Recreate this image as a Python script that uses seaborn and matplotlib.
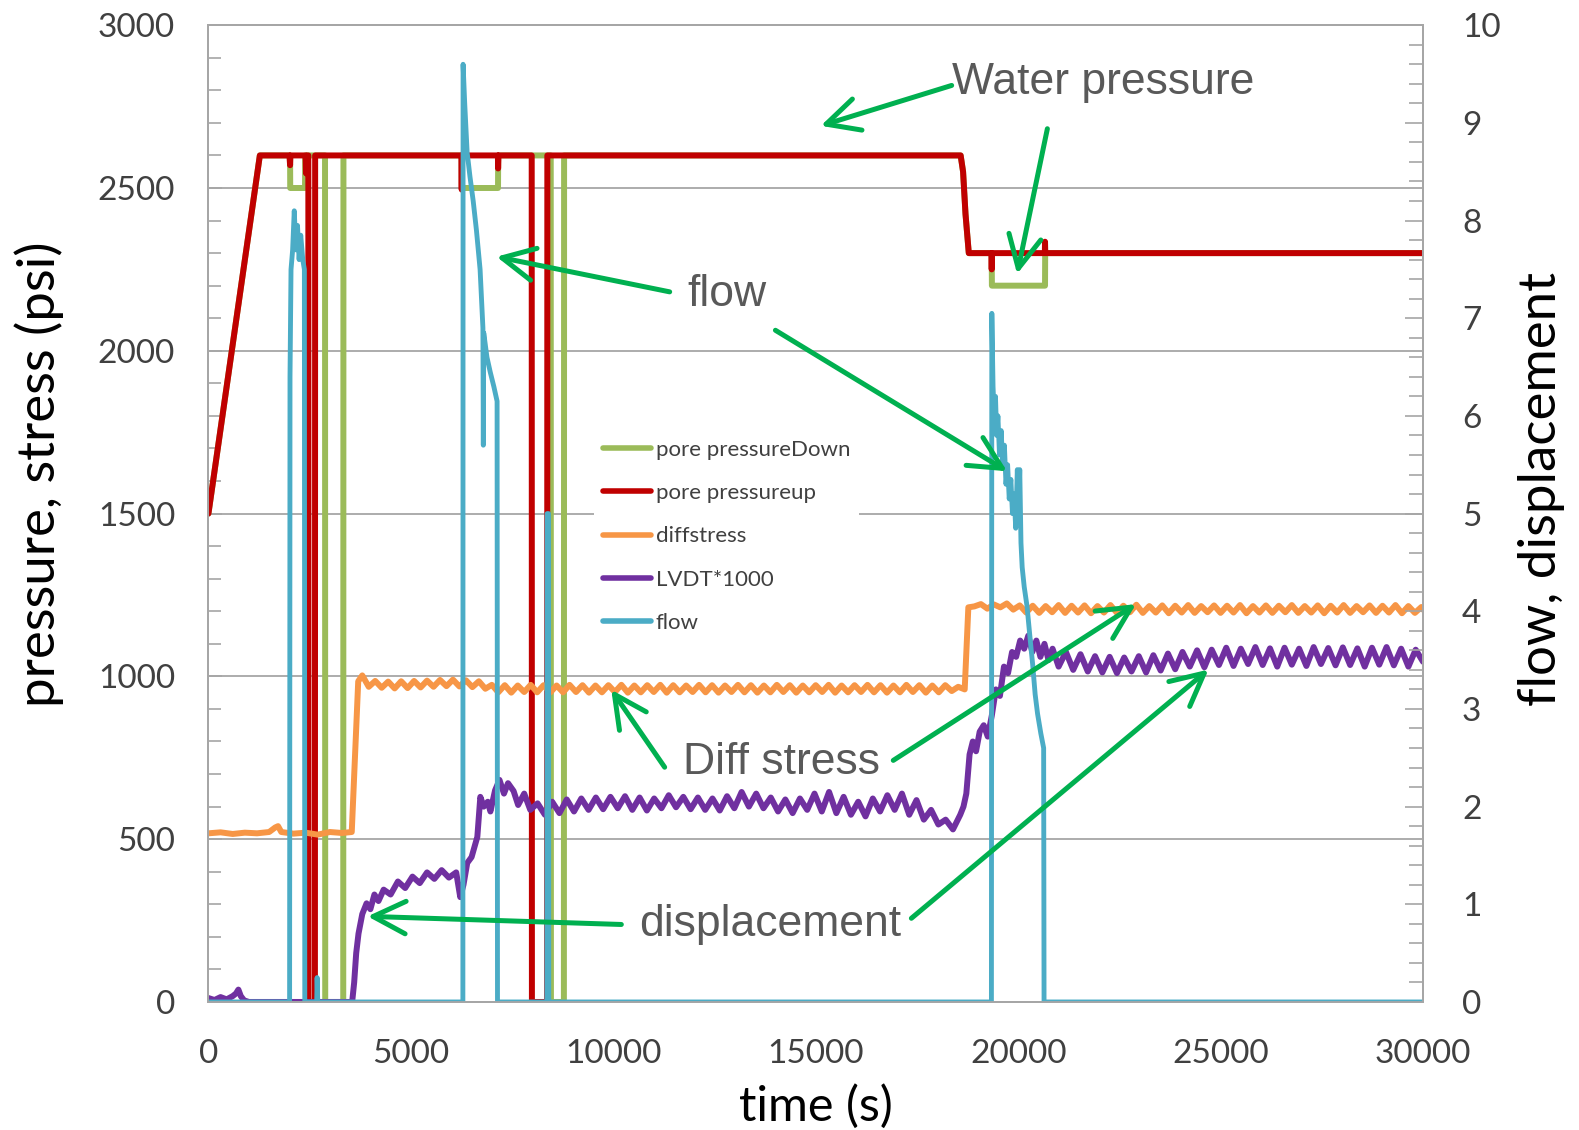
import matplotlib
matplotlib.use("Agg")
import numpy as np
import pandas as pd
import seaborn as sns
import matplotlib.pyplot as plt
from matplotlib.ticker import MultipleLocator

# ---------------- data ----------------
X_TICKS = [0, 5000, 10000, 15000, 20000, 25000, 30000]
Y_TICKS = [0, 500, 1000, 1500, 2000, 2500, 3000]
Y2_TICKS = [0, 1, 2, 3, 4, 5, 6, 7, 8, 9, 10]

# pore pressure up (psi)
RED = [(0, 1500), (1270, 2600), (2000, 2600), (2017, 2570), (2025, 2600), (2400, 2600),
       (2410, 2545), (2440, 2600), (2468, 2600), (2472, 0), (2630, 0), (2636, 2600),
       (6250, 2600), (6256, 2495), (6262, 2600), (7150, 2600), (7155, 2560), (7165, 2600),
       (7985, 2600), (7990, 0), (8366, 0), (8371, 2600), (18580, 2600), (18640, 2550),
       (18700, 2420), (18781, 2300), (19340, 2300), (19347, 2250), (19354, 2300),
       (20660, 2300), (20664, 2335), (20670, 2300), (30000, 2300)]

# pore pressure down (psi)
GREEN = [(0, 1500), (1270, 2600), (2017, 2600), (2020, 2500), (2386, 2500), (2390, 2600),
         (2880, 2600), (2885, 0), (3330, 0), (3335, 2600), (6256, 2600), (6260, 2500),
         (7153, 2500), (7157, 2600), (8455, 2600), (8460, 0), (8780, 0), (8785, 2600),
         (18580, 2600), (18640, 2550), (18700, 2420), (18781, 2300), (19347, 2300),
         (19352, 2200), (20664, 2200), (20668, 2300), (30000, 2300)]

# diff stress (psi)
DIFF_PRE = [(0, 518), (300, 521), (600, 516), (900, 520), (1200, 518), (1500, 522),
            (1650, 536), (1720, 540), (1800, 522), (2100, 517), (2400, 520), (2700, 514),
            (3000, 522), (3300, 519), (3540, 522), (3700, 985), (3800, 1003)]
DIFF_W1_START, DIFF_W1_STEP = 3960, 160
DIFF_W1 = [968, 986, 965, 984, 963, 985, 964, 986, 966, 987, 968, 989, 970, 990, 969, 988, 967, 985, 962,
           974, 951, 973, 950, 972, 952, 974, 951, 973, 950, 972, 951, 974, 952, 973, 950, 972, 951, 973, 952,
           974, 950, 972, 951, 973, 952, 974, 950, 973, 951, 972, 952, 974, 951, 973, 950, 972, 952, 974, 951,
           973, 950, 972, 951, 974, 952, 973, 950, 972, 951, 973, 952, 974, 950, 972, 951, 973, 952, 974, 951,
           973, 950, 972, 951, 974, 952, 973, 950, 972, 951, 973, 955, 968]
DIFF_STEP = [(18680, 960), (18770, 1212)]
DIFF_W2_START, DIFF_W2_STEP = 18920, 160
DIFF_W2 = [1215, 1222, 1208, 1221, 1212, 1224, 1205, 1218, 1196, 1217, 1195, 1216, 1197, 1219, 1195, 1217, 1196, 1218, 1194, 1216,
           1196, 1219, 1195, 1217, 1197, 1220, 1195, 1216, 1196, 1218, 1194, 1217, 1196, 1219, 1195, 1216, 1197, 1218, 1195, 1217,
           1196, 1219, 1194, 1216, 1196, 1218, 1195, 1217, 1197, 1219, 1195, 1216, 1196, 1218, 1194, 1217, 1196, 1219, 1195, 1216,
           1197, 1218, 1195, 1217, 1196, 1219, 1194, 1216, 1195, 1213]

# LVDT*1000
LVDT_PRE = [(0, 12), (150, 6), (300, 15), (450, 8), (600, 18), (680, 26), (740, 38), (800, 18),
            (880, 5), (1000, 0), (3550, 0), (3600, 60), (3650, 150), (3707, 210), (3800, 270),
            (3906, 303), (4000, 285), (4100, 330), (4200, 310), (4328, 345)]
LVDT_W1_START, LVDT_W1_STEP = 4500, 180
LVDT_W1 = [330, 370, 350, 385, 365, 398, 378, 405, 382, 398]
LVDT_MID = [(6220, 322), (6300, 360), (6393, 427), (6500, 445), (6642, 507), (6716, 630),
            (6800, 600), (6900, 615), (6965, 585), (7080, 650), (7189, 682), (7300, 640),
            (7400, 672), (7537, 648), (7650, 605), (7800, 640), (7950, 590)]
LVDT_W2_START, LVDT_W2_STEP = 8130, 180
LVDT_W2 = [610, 575, 615, 580, 622, 585, 625, 590, 628, 592, 630, 595, 632, 590, 628, 588, 625, 595, 635, 598,
           630, 592, 628, 590, 625, 588, 632, 595, 645, 600, 640, 595, 628, 585, 622, 580, 625, 590, 640, 585,
           645, 580, 630, 575, 615, 570, 625, 585, 635, 590, 640, 575, 620, 560, 590, 545, 560, 530, 575]
LVDT_RISE = [(18650, 600), (18720, 640), (18800, 760), (18880, 800), (18960, 770), (19050, 830),
             (19150, 850), (19250, 815), (19350, 880), (19450, 960), (19550, 940), (19650, 1030),
             (19750, 1010), (19850, 1075), (19950, 1060), (20050, 1110), (20150, 1085), (20250, 1125),
             (20350, 1075), (20450, 1110), (20550, 1060), (20650, 1100), (20750, 1050), (20850, 1085)]
LVDT_W3_START, LVDT_W3_STEP = 21000, 180
LVDT_W3 = [1030, 1075, 1020, 1068, 1015, 1062, 1012, 1060, 1010, 1058, 1015, 1062, 1012, 1065, 1018, 1070, 1022, 1075, 1030, 1080,
           1028, 1082, 1035, 1088, 1032, 1085, 1038, 1090, 1035, 1086, 1030, 1088, 1036, 1085, 1032, 1090, 1038, 1087, 1034, 1089,
           1035, 1086, 1030, 1088, 1036, 1090, 1034, 1085, 1030, 1082, 1045]

# flow (right axis)
FLOW = [(0, 0), (2005, 0), (2015, 6.4), (2040, 7.5), (2080, 7.7), (2120, 8.1), (2160, 7.7),
        (2200, 7.95), (2240, 7.6), (2280, 7.85), (2330, 7.6), (2370, 7.5), (2380, 0), (2675, 0),
        (2685, 0.25), (2700, 0), (6285, 0), (6290, 9.6), (6330, 9.2), (6390, 8.7), (6460, 8.45),
        (6540, 8.2), (6620, 7.9), (6710, 7.5), (6780, 6.9), (6790, 5.7), (6800, 6.85), (6880, 6.6),
        (6960, 6.45), (7050, 6.3), (7130, 6.15), (7140, 0), (8360, 0), (8366, 5.0), (8400, 5.0),
        (8406, 0), (19340, 0), (19350, 7.05), (19380, 6.3), (19410, 6.0), (19440, 6.2), (19470, 5.8),
        (19500, 6.0), (19540, 5.6), (19580, 5.85), (19620, 5.5), (19660, 5.7), (19700, 5.3),
        (19740, 5.5), (19780, 5.15), (19820, 5.35), (19860, 5.0), (19900, 5.2), (19940, 4.85),
        (19980, 5.45), (20010, 5.0), (20040, 5.45), (20070, 4.7), (20100, 4.45), (20150, 4.25),
        (20220, 4.05), (20300, 3.7), (20360, 3.45), (20420, 3.15), (20480, 2.95), (20560, 2.75),
        (20630, 2.6), (20640, 0), (30000, 0)]

LEGEND_LABELS = ["pore pressureDown", "pore pressureup", "diffstress", "LVDT*1000", "flow"]

# annotations: text, (x, y) of text left edge; arrows tail -> head, in left-axis data units
ANN_TEXT = [("Water pressure", 18358, 2824), ("flow", 11841, 2174),
            ("Diff stress", 11717, 736), ("displacement", 10647, 238)]
ANN_ARROWS = [((18358, 2815), (15125, 2691)), ((20722, 2682), (19975, 2236)),
              ((11393, 2181), (7115, 2289)), ((14005, 2063), (19727, 1630)),
              ((11269, 721), (9950, 959)), ((16916, 742), (22911, 1222)),
              ((10199, 238), (3930, 263)), ((17363, 257), (24702, 1021))]


def pairs_df(pairs):
    return pd.DataFrame(pairs, columns=["t", "v"])


def sampled(start, step, values):
    return [(start + i * step, v) for i, v in enumerate(values)]


red_df = pairs_df(RED)
green_df = pairs_df(GREEN)
diff_df = pairs_df(DIFF_PRE + sampled(DIFF_W1_START, DIFF_W1_STEP, DIFF_W1) + DIFF_STEP
                   + sampled(DIFF_W2_START, DIFF_W2_STEP, DIFF_W2) + [(30000, 1205)])
lvdt_df = pairs_df(LVDT_PRE + sampled(LVDT_W1_START, LVDT_W1_STEP, LVDT_W1) + LVDT_MID
                   + sampled(LVDT_W2_START, LVDT_W2_STEP, LVDT_W2) + LVDT_RISE
                   + sampled(LVDT_W3_START, LVDT_W3_STEP, LVDT_W3))
flow_df = pairs_df(FLOW)

# ---------------- style ----------------
sns.set_style("white")
plt.rcParams["font.family"] = ["Lato", "DejaVu Sans"]

C_GREEN = "#9BBB59"
C_RED = "#C00000"
C_ORANGE = "#F79646"
C_PURPLE = "#7030A0"
C_BLUE = "#4BACC6"
C_ARROW = "#00B050"
C_SPINE = "#A6A6A6"
C_TICKLBL = "#404040"
C_ANN = "#595959"

fig, ax = plt.subplots(figsize=(15.79, 11.30), dpi=100)
fig.subplots_adjust(left=0.132, right=0.9012, top=0.9777, bottom=0.1133)
ax2 = ax.twinx()

LW = 4.3
common = dict(sort=False, estimator=None, legend=False)
sns.lineplot(data=green_df, x="t", y="v", ax=ax, color=C_GREEN, lw=LW, label=LEGEND_LABELS[0], **common)
sns.lineplot(data=red_df, x="t", y="v", ax=ax, color=C_RED, lw=LW, label=LEGEND_LABELS[1], **common)
sns.lineplot(data=diff_df, x="t", y="v", ax=ax, color=C_ORANGE, lw=LW, label=LEGEND_LABELS[2], **common)
sns.lineplot(data=lvdt_df, x="t", y="v", ax=ax, color=C_PURPLE, lw=LW, label=LEGEND_LABELS[3], **common)
sns.lineplot(data=flow_df, x="t", y="v", ax=ax2, color=C_BLUE, lw=3.5, label=LEGEND_LABELS[4], **common)

ax.set_xlim(X_TICKS[0], X_TICKS[-1])
ax.set_ylim(Y_TICKS[0], Y_TICKS[-1])
ax2.set_ylim(Y2_TICKS[0], Y2_TICKS[-1])
ax.set_xticks(X_TICKS)
ax.set_yticks(Y_TICKS)
ax2.set_yticks(Y2_TICKS)
ax.xaxis.set_minor_locator(MultipleLocator(1000))
ax.yaxis.set_minor_locator(MultipleLocator(100))
ax2.yaxis.set_minor_locator(MultipleLocator(0.2))

ax.grid(axis="y", which="major", color=C_SPINE, lw=1.3)
ax.grid(axis="x", visible=False)
for a in (ax, ax2):
    for s in a.spines.values():
        s.set_color(C_SPINE)
        s.set_linewidth(1.3)
        s.set_visible(True)

ax.tick_params(axis="y", which="major", direction="in", length=10, width=1.2, color=C_SPINE,
               labelsize=24, labelcolor=C_TICKLBL, pad=24, right=False)
ax.tick_params(axis="y", which="minor", direction="in", length=9, width=1.2, color=C_SPINE, right=False)
ax.tick_params(axis="x", which="major", direction="in", length=10, width=1.2, color=C_SPINE,
               labelsize=24, labelcolor=C_TICKLBL, pad=27, top=False)
ax.tick_params(axis="x", which="minor", direction="in", length=8, width=1.2, color=C_SPINE, top=False)
ax2.tick_params(axis="y", which="major", direction="in", length=13, width=1.2, color=C_SPINE,
                labelsize=24, labelcolor=C_TICKLBL, pad=28)
ax2.tick_params(axis="y", which="minor", direction="in", length=10, width=1.2, color=C_SPINE)

ax.set_xlabel("time (s)", fontsize=35, color="black")
ax.set_ylabel("pressure, stress (psi)", fontsize=38, color="black")
ax2.set_ylabel("flow, displacement", fontsize=38, color="black")
ax.xaxis.set_label_coords(0.5, -0.084)
ax.yaxis.set_label_coords(-0.119, 0.54)
ax2.yaxis.set_label_coords(1.078, 0.525)

# legend (combined)
h1, l1 = ax.get_legend_handles_labels()
h2, l2 = ax2.get_legend_handles_labels()
leg = ax2.legend(h1 + h2, l1 + l2, loc="upper left", bbox_to_anchor=(0.308, 0.596),
                 frameon=True, facecolor="white", edgecolor="none", framealpha=1,
                 fontsize=16, handlelength=2.2, handletextpad=0.2, labelspacing=1.05,
                 borderpad=0.4)
for txt in leg.get_texts():
    txt.set_color(C_TICKLBL)
for ln in leg.get_lines():
    ln.set_linewidth(4.0)

# annotations
for text, x, y in ANN_TEXT:
    ax2.text(x, y, text, transform=ax.transData, fontsize=32, color=C_ANN,
             ha="left", va="center", family=["Liberation Sans", "DejaVu Sans"], zorder=10)
for tail, head in ANN_ARROWS:
    ax2.annotate("", xy=head, xytext=tail, xycoords=ax.transData, textcoords=ax.transData,
                 arrowprops=dict(arrowstyle="->,head_length=0.9,head_width=0.45", color=C_ARROW,
                                 lw=3.6, mutation_scale=26, shrinkA=0, shrinkB=0), zorder=10)

fig.savefig("out.png", dpi=100)
